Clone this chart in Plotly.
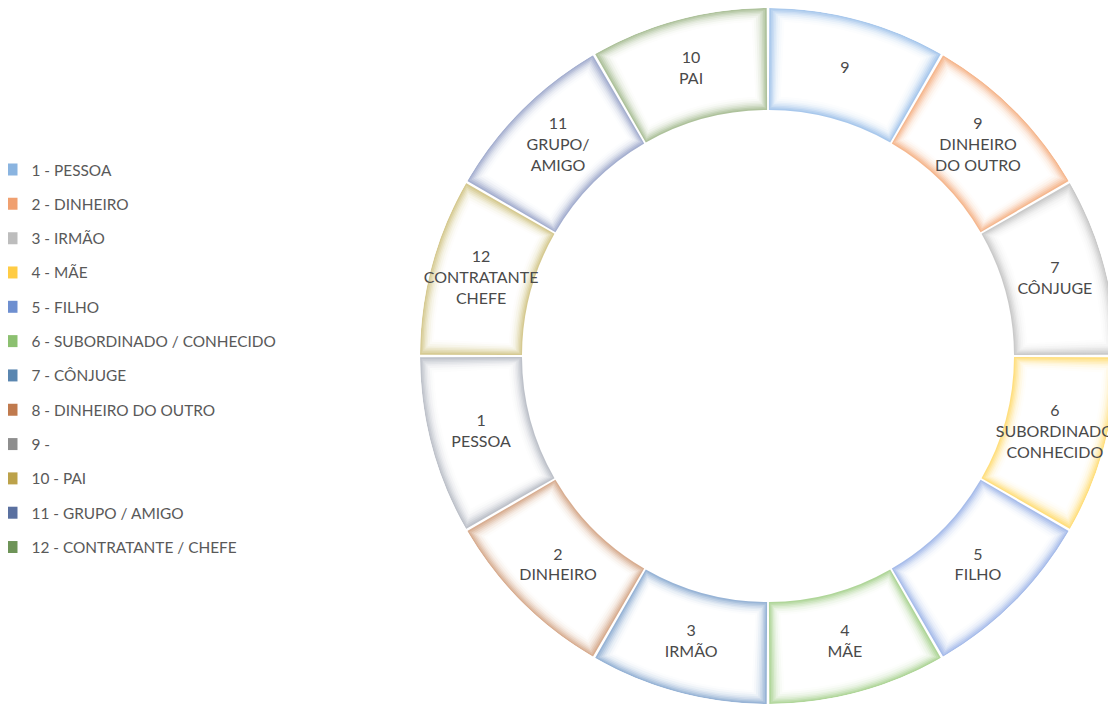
import plotly.graph_objects as go

# ---- data ----
categories = ["1 - PESSOA", "2 - DINHEIRO", "3 - IRMÃO", "4 - MÃE", "5 - FILHO",
              "6 - SUBORDINADO / CONHECIDO", "7 - CÔNJUGE", "8 - DINHEIRO DO OUTRO",
              "9 -", "10 - PAI", "11 - GRUPO / AMIGO", "12 - CONTRATANTE / CHEFE"]
values = [1, 1, 1, 1, 1, 1, 1, 1, 1, 1, 1, 1]
slice_labels = ["9", "9<br>DINHEIRO<br>DO OUTRO", "7<br>CÔNJUGE",
                "6<br>SUBORDINADO<br>CONHECIDO", "5<br>FILHO", "4<br>MÃE",
                "3<br>IRMÃO", "2<br>DINHEIRO", "1<br>PESSOA",
                "12<br>CONTRATANTE<br>CHEFE", "11<br>GRUPO/<br>AMIGO", "10<br>PAI"]

# ---- styles ----
legend_colors = ["#8AB4E0", "#F0A070", "#BDBDBD", "#FFCC44", "#6E8FD0", "#8CC070",
                 "#5A86B0", "#C07A4E", "#8E8E8E", "#BCA24A", "#5A70A0", "#6E9458"]
glow_colors = ["#A9C8EC", "#F5B890", "#CACACA", "#FFDF80", "#A8BDEA", "#B0D69A",
               "#98B4D6", "#D8AE92", "#BEC2CA", "#D6CA92", "#A6B0D0", "#AEC29C"]

W, H = 1108, 696
R_OUT = 348.0
R_IN = 246.0
R_MID = (R_OUT + R_IN) / 2
GAP_PX = 2.2


def hex_mix(c, t):
    c = c.lstrip("#")
    r, g, b = int(c[0:2], 16), int(c[2:4], 16), int(c[4:6], 16)
    r = round(255 + (r - 255) * t)
    g = round(255 + (g - 255) * t)
    b = round(255 + (b - 255) * t)
    return f"rgb({r},{g},{b})"


total = sum(values)
spans = [v / total * 360 for v in values]
centers = []
acc = 0
for s in spans:
    centers.append(acc + s / 2)
    acc += s

deg_per_px = 180 / (3.14159265 * R_MID)

fig = go.Figure()

layers = [(0, 1.0), (1.5, 0.82), (3, 0.63), (4.5, 0.46), (6, 0.31), (7.5, 0.19),
          (9.5, 0.09), (11.5, 0.03), (13.5, 0.0)]
for d, t in layers:
    fig.add_trace(go.Barpolar(
        r=[(R_OUT - d) - (R_IN + d)] * len(values),
        base=[R_IN + d] * len(values),
        theta=centers,
        width=[s - (GAP_PX + 2 * d) * deg_per_px for s in spans],
        marker=dict(color=[hex_mix(c, t) for c in glow_colors], line=dict(width=0)),
        showlegend=False, hoverinfo="skip",
    ))

fig.add_trace(go.Scatterpolar(
    r=[R_MID] * len(values), theta=centers, mode="text", text=slice_labels,
    textfont=dict(family="Lato", size=16, color="#4a4a4a"),
    showlegend=False, hoverinfo="skip",
))

for i, name in enumerate(categories):
    fig.add_trace(go.Scatterpolar(
        r=[None], theta=[None], mode="markers", name=name,
        legendgroup=f"g{i}",
        marker=dict(symbol="square", size=7, color=legend_colors[i]),
    ))

fig.update_layout(
    width=W, height=H,
    margin=dict(l=0, r=0, t=0, b=0, autoexpand=False),
    paper_bgcolor="white", plot_bgcolor="white",
    polar=dict(
        domain=dict(x=[412 / W, 1.0], y=[0, 1.0]),
        bgcolor="white",
        barmode="overlay",
        radialaxis=dict(range=[0, R_OUT], visible=False, showgrid=False),
        angularaxis=dict(rotation=90, direction="clockwise", visible=False, showgrid=False),
    ),
    showlegend=True,
    legend=dict(
        x=-16.5 / W, xanchor="left", y=1 - 145 / H, yanchor="top",
        font=dict(family="Lato", size=15.4, color="#595959"),
        traceorder="grouped", tracegroupgap=11.3,
        bgcolor="rgba(0,0,0,0)", itemsizing="constant",
    ),
)

fig.write_html("out.html")
